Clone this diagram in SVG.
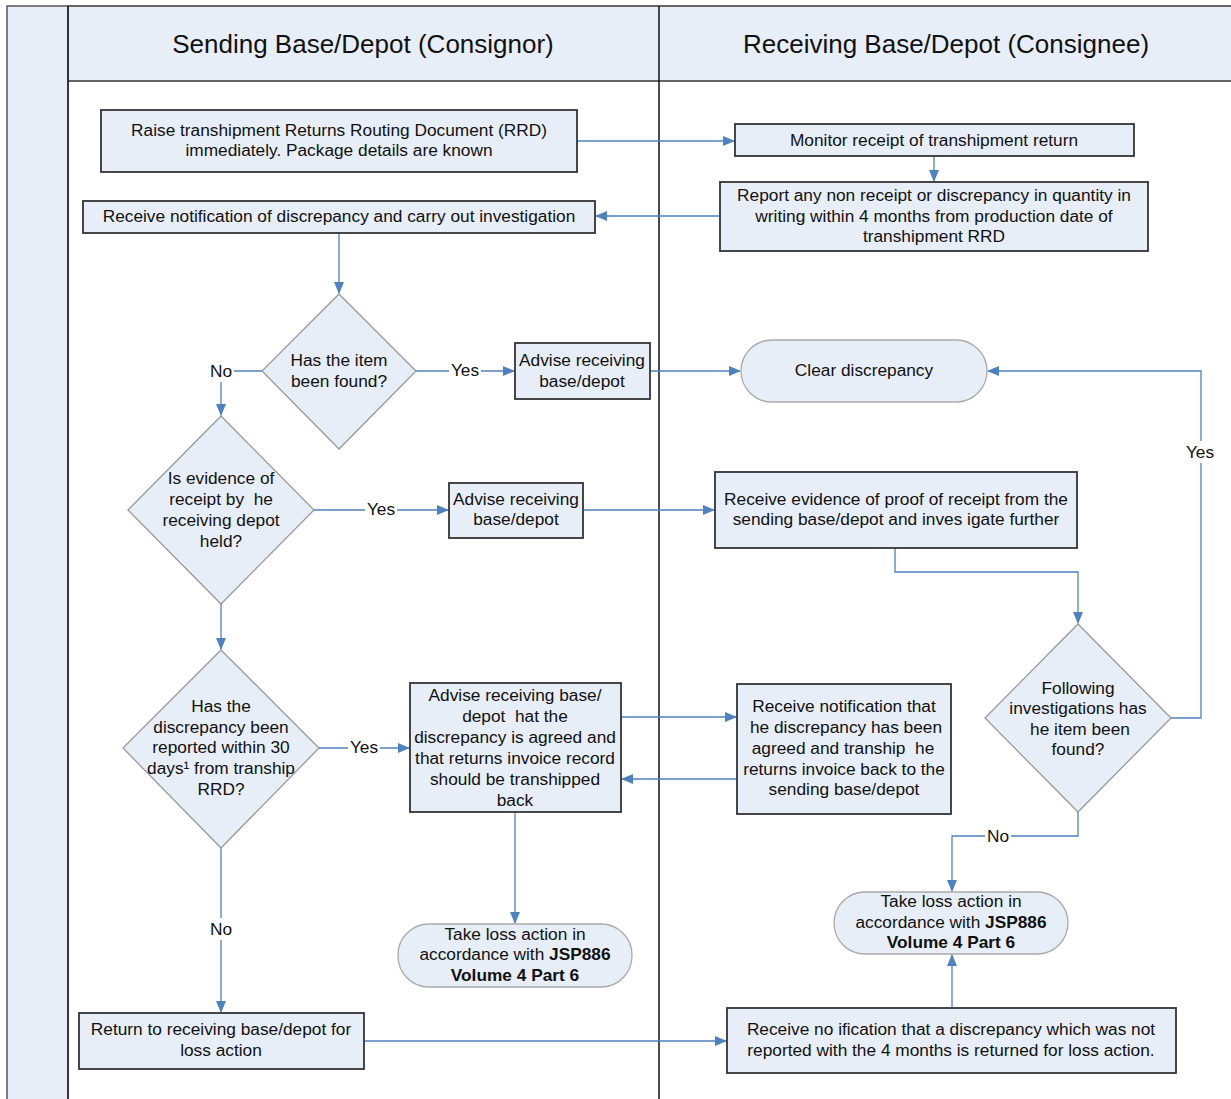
<svg xmlns="http://www.w3.org/2000/svg" width="1231" height="1099" viewBox="0 0 1231 1099">
<style>
text{font-family:"Liberation Sans",Arial,sans-serif;font-size:17.3px;fill:#111;text-anchor:middle;dominant-baseline:central}
.hdr{font-size:26px}
.box{fill:#E8EEF7;stroke:#333;stroke-width:1.8}
.dia{fill:#E8EEF7;stroke:#999;stroke-width:1.3}
.term{fill:#E8EEF7;stroke:#aaa;stroke-width:1.3}
.con{fill:none;stroke:#4F81BD;stroke-width:1.3}
.lbl{fill:#fff}
.b{font-weight:bold}
</style>
<defs>
<marker id="ah" markerWidth="12" markerHeight="10" refX="11" refY="5" orient="auto" markerUnits="userSpaceOnUse">
<path d="M0,0 L12,5 L0,10 z" fill="#4F81BD"/>
</marker>
</defs>
<rect width="1231" height="1099" fill="#fff"/>
<g id="frame">
<rect x="7" y="6" width="61" height="1095" fill="#E8EEF7" stroke="#555" stroke-width="1.5"/>
<rect x="68" y="6" width="1165" height="75" fill="#E8EEF7" stroke="#555" stroke-width="1.8"/>
<line x1="68" y1="6" x2="68" y2="1099" stroke="#222" stroke-width="1.5"/>
<line x1="659" y1="6" x2="659" y2="1099" stroke="#111" stroke-width="1.5"/>
<text class="hdr" x="363" y="44">Sending Base/Depot (Consignor)</text>
<text class="hdr" x="946" y="44">Receiving Base/Depot (Consignee)</text>
</g>
<g id="connectors">
<path class="con" d="M577,141 H734" marker-end="url(#ah)"/>
<path class="con" d="M934,156 V181" marker-end="url(#ah)"/>
<path class="con" d="M720,216 H596" marker-end="url(#ah)"/>
<path class="con" d="M339,233 V293" marker-end="url(#ah)"/>
<path class="con" d="M416,371 H514" marker-end="url(#ah)"/>
<path class="con" d="M262,371 H221 V415" marker-end="url(#ah)"/>
<path class="con" d="M650,371 H740" marker-end="url(#ah)"/>
<path class="con" d="M314,510 H448" marker-end="url(#ah)"/>
<path class="con" d="M583,510 H714" marker-end="url(#ah)"/>
<path class="con" d="M895,548 V572 H1078 V623" marker-end="url(#ah)"/>
<path class="con" d="M1171,718 H1201 V371 H988" marker-end="url(#ah)"/>
<path class="con" d="M1078,812 V836 H952 V891" marker-end="url(#ah)"/>
<path class="con" d="M221,604 V649" marker-end="url(#ah)"/>
<path class="con" d="M319,748 H409" marker-end="url(#ah)"/>
<path class="con" d="M621,717 H736" marker-end="url(#ah)"/>
<path class="con" d="M737,779 H622" marker-end="url(#ah)"/>
<path class="con" d="M515,812 V923" marker-end="url(#ah)"/>
<path class="con" d="M221,848 V1012" marker-end="url(#ah)"/>
<path class="con" d="M364,1041 H726" marker-end="url(#ah)"/>
<path class="con" d="M952,1008 V955" marker-end="url(#ah)"/>
<g id="labels">
<rect class="lbl" x="449" y="360" width="32" height="22"/><text x="465" y="370">Yes</text>
<rect class="lbl" x="208" y="360" width="26" height="22"/><text x="221" y="371">No</text>
<rect class="lbl" x="365" y="499" width="32" height="22"/><text x="381" y="509">Yes</text>
<rect class="lbl" x="1184" y="441" width="33" height="22"/><text x="1200" y="452">Yes</text>
<rect class="lbl" x="985" y="825" width="26" height="22"/><text x="998" y="836">No</text>
<rect class="lbl" x="348" y="737" width="32" height="22"/><text x="364" y="747">Yes</text>
<rect class="lbl" x="208" y="918" width="26" height="22"/><text x="221" y="929">No</text>
</g>
</g>
<g id="n1"><rect class="box" x="101" y="110" width="476" height="62"/><text x="339" y="130">Raise transhipment Returns Routing Document (RRD)</text><text x="339" y="150">immediately. Package details are known</text></g>
<g id="n2"><rect class="box" x="83" y="201" width="512" height="32"/><text x="339" y="216">Receive notification of discrepancy and carry out investigation</text></g>
<g id="n3"><rect class="box" x="735" y="124" width="399" height="32"/><text x="934" y="140">Monitor receipt of transhipment return</text></g>
<g id="n4"><rect class="box" x="720" y="182" width="428" height="69"/><text x="934" y="195">Report any non receipt or discrepancy in quantity in</text><text x="934" y="216">writing within 4 months from production date of</text><text x="934" y="236">transhipment RRD</text></g>
<g id="n5"><polygon class="dia" points="339,294 416,371 339,449 262,371"/><text x="339" y="360">Has the item</text><text x="339" y="381">been found?</text></g>
<g id="n6"><rect class="box" x="515" y="343" width="135" height="56"/><text x="582" y="360">Advise receiving</text><text x="582" y="381">base/depot</text></g>
<g id="n7"><rect class="term" x="741" y="340" width="246" height="62" rx="31"/><text x="864" y="370">Clear discrepancy</text></g>
<g id="n8"><polygon class="dia" points="221,416 314,510 221,604 128,510"/><text x="221" y="478">Is evidence of</text><text x="221" y="499" xml:space="preserve">receipt by  he</text><text x="221" y="520">receiving depot</text><text x="221" y="541">held?</text></g>
<g id="n9"><rect class="box" x="449" y="483" width="134" height="55"/><text x="516" y="499">Advise receiving</text><text x="516" y="519">base/depot</text></g>
<g id="n10"><rect class="box" x="715" y="472" width="362" height="76"/><text x="896" y="499">Receive evidence of proof of receipt from the</text><text x="896" y="519">sending base/depot and inves igate further</text></g>
<g id="n11"><polygon class="dia" points="1078,624 1171,718 1078,812 985,718"/><text x="1078" y="688">Following</text><text x="1078" y="708">investigations has</text><text x="1080" y="729">he item been</text><text x="1078" y="749">found?</text></g>
<g id="n12"><polygon class="dia" points="221,650 319,748 221,848 123,748"/><text x="221" y="706">Has the</text><text x="221" y="727">discrepancy been</text><text x="221" y="747">reported within 30</text><text x="221" y="768">days¹ from tranship</text><text x="221" y="789">RRD?</text></g>
<g id="n13"><rect class="box" x="410" y="683" width="211" height="129"/><text x="515" y="695">Advise receiving base/</text><text x="515" y="716" xml:space="preserve">depot  hat the</text><text x="515" y="737">discrepancy is agreed and</text><text x="515" y="758">that returns invoice record</text><text x="515" y="779">should be transhipped</text><text x="515" y="800">back</text></g>
<g id="n14"><rect class="box" x="737" y="684" width="214" height="130"/><text x="844" y="706">Receive notification that</text><text x="846" y="727">he discrepancy has been</text><text x="843" y="748" xml:space="preserve">agreed and tranship  he</text><text x="844" y="769">returns invoice back to the</text><text x="844" y="789">sending base/depot</text></g>
<g id="n15"><rect class="term" x="398" y="924" width="234" height="63" rx="31"/><text x="515" y="934">Take loss action in</text><text x="515" y="954">accordance with <tspan class="b">JSP886</tspan></text><text x="515" y="975" class="b">Volume 4 Part 6</text></g>
<g id="n16"><rect class="term" x="834" y="892" width="234" height="62" rx="31"/><text x="951" y="901">Take loss action in</text><text x="951" y="922">accordance with <tspan class="b">JSP886</tspan></text><text x="951" y="942" class="b">Volume 4 Part 6</text></g>
<g id="n17"><rect class="box" x="79" y="1013" width="285" height="56"/><text x="221" y="1029">Return to receiving base/depot for</text><text x="221" y="1050">loss action</text></g>
<g id="n18"><rect class="box" x="727" y="1008" width="449" height="65"/><text x="951" y="1029">Receive no ification that a discrepancy which was not</text><text x="951" y="1050">reported with the 4 months is returned for loss action.</text></g>
</svg>
